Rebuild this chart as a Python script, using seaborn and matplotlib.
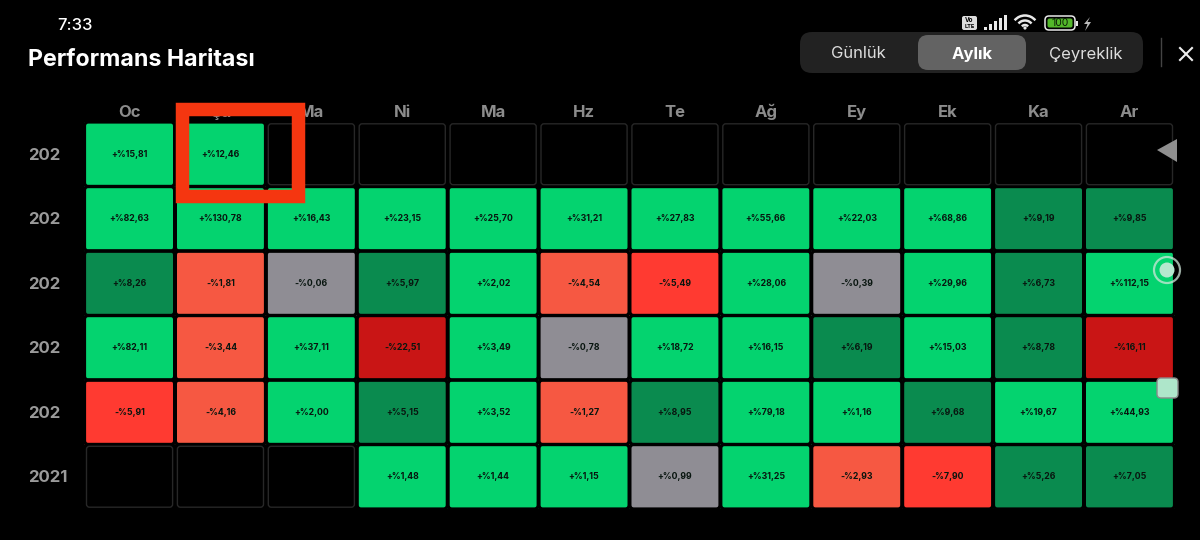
import numpy as np
import pandas as pd
import matplotlib
matplotlib.use('Agg')
import matplotlib.pyplot as plt
import seaborn as sns
from matplotlib.colors import ListedColormap
from matplotlib.patches import FancyBboxPatch, Rectangle, Circle, Polygon, Arc

months = ['Oc', 'Şu', 'Ma', 'Ni', 'Ma', 'Hz', 'Te', 'Ağ', 'Ey', 'Ek', 'Ka', 'Ar']
years = ['202', '202', '202', '202', '202', '2021']

row_1 = [15.81, 12.46, None, None, None, None, None, None, None, None, None, None]
row_2 = [82.63, 130.78, 16.43, 23.15, 25.70, 31.21, 27.83, 55.66, 22.03, 68.86, 9.19, 9.85]
row_3 = [8.26, -1.81, -0.06, 5.97, 2.02, -4.54, -5.49, 28.06, -0.39, 29.96, 6.73, 112.15]
row_4 = [82.11, -3.44, 37.11, -22.51, 3.49, -0.78, 18.72, 16.15, 6.19, 15.03, 8.78, -16.11]
row_5 = [-5.91, -4.16, 2.00, 5.15, 3.52, -1.27, 8.95, 79.18, 1.16, 9.68, 19.67, 44.93]
row_6 = [None, None, None, 1.48, 1.44, 1.15, 0.99, 31.25, -2.93, -7.90, 5.26, 7.05]

colors = ['#C91515', '#FF3A31', '#F65842', '#8F8D94', '#04D36F', '#0A8B4F']


def color_group(v):
    if np.isnan(v):
        return np.nan
    if v <= -10:
        return 0
    if v <= -5:
        return 1
    if v <= -1:
        return 2
    if v < 1:
        return 3
    if 5 <= v < 10:
        return 5
    return 4


def cell_label(v):
    if np.isnan(v):
        return ''
    sign = '+' if v >= 0 else '-'
    return f'{sign}%{abs(v):.2f}'.replace('.', ',')


values = pd.DataFrame([row_1, row_2, row_3, row_4, row_5, row_6], dtype=float)
groups = values.map(color_group)
labels = values.map(cell_label)

plt.rcParams['font.family'] = ['Inter', 'DejaVu Sans']
fig = plt.figure(figsize=(12, 5.4), dpi=100, facecolor='black')

# grid position in pixels of the screenshot
left, top, pitch_x, pitch_y = 84.1, 122.0, 90.9, 64.5
ax = fig.add_axes([left / 1200, 1 - (top + 6 * pitch_y) / 540, 12 * pitch_x / 1200, 6 * pitch_y / 540])
ax.set_facecolor('black')
sns.heatmap(groups, ax=ax, cmap=ListedColormap(colors), vmin=-0.5, vmax=5.5, cbar=False,
            annot=labels, fmt='', annot_kws={'fontsize': 6.3, 'color': '#08150f', 'fontweight': 'bold'},
            xticklabels=months, yticklabels=years)
ax.xaxis.tick_top()
ax.tick_params(length=0)
ax.tick_params(axis='x', pad=1.5)
ax.tick_params(axis='y', pad=40.5)
for t in ax.get_xticklabels():
    t.set(color='#8c8c8c', fontsize=12, fontweight='bold', rotation=0)
for t in ax.get_yticklabels():
    t.set(color='#9a9a9a', fontsize=12, fontweight='bold', rotation=0, ha='left', y=t.get_position()[1])
    t.set_transform(t.get_transform() + matplotlib.transforms.ScaledTranslation(0, -1 / 100, fig.dpi_scale_trans))

# overlay in screen pixels, for rounded cells and the app chrome
ui = fig.add_axes([0, 0, 1, 1], facecolor='none')
ui.set_xlim(0, 1200)
ui.set_ylim(540, 0)
ui.axis('off')


def rrect(x0, y0, x1, y1, r, fc='none', ec='none', lw=0, z=2):
    p = FancyBboxPatch((x0 + r, y0 + r), x1 - x0 - 2 * r, y1 - y0 - 2 * r,
                       boxstyle=f'round,pad={r},rounding_size={r}', fc=fc, ec=ec, lw=lw, zorder=z)
    ui.add_patch(p)


for r in range(6):
    for c in range(12):
        x0 = left + c * pitch_x
        y0 = top + r * pitch_y
        rrect(x0 + 0.4, y0, x0 + pitch_x - 0.4, y0 + pitch_y, 4, ec='black', lw=2.3)
        if np.isnan(values.iloc[r, c]):
            rrect(x0 + 2.4, y0 + 1.8, x0 + pitch_x - 2.4, y0 + pitch_y - 1.8, 3, ec='#272727', lw=1.0, z=3)

# red marker box
ui.add_patch(Rectangle((182, 108.7), 115.5, 87, fc='none', ec='#F53610', lw=9.7, joinstyle='miter', zorder=5))

# header
ui.text(57, 25, '7:33', color='white', fontsize=12, fontweight='medium', va='center')
ui.text(28, 59.5, 'Performans Haritası', color='white', fontsize=16.7, fontweight='bold', va='center')
rrect(800, 32, 1143, 73, 12, fc='#222222')
rrect(918, 35, 1026, 70, 10, fc='#636363', z=3)
ui.text(858, 54, 'Günlük', color='#dddddd', fontsize=12, ha='center', va='center', zorder=4)
ui.text(972, 54, 'Aylık', color='white', fontsize=12, fontweight='bold', ha='center', va='center', zorder=4)
ui.text(1086, 54, 'Çeyreklik', color='#dddddd', fontsize=12, ha='center', va='center', zorder=4)
ui.plot([1161, 1161], [38, 66], color='#444444', lw=1)
ui.plot([1180, 1192], [48, 60], color='#eeeeee', lw=1.5)
ui.plot([1180, 1192], [60, 48], color='#eeeeee', lw=1.5)

# status bar icons
rrect(962, 16, 977, 30, 2, fc='#dddddd')
ui.text(969.5, 20, 'Vo', color='black', fontsize=4.5, fontweight='bold', ha='center', va='center')
ui.text(969.5, 26, 'LTE', color='black', fontsize=4, fontweight='bold', ha='center', va='center')
for i, h in enumerate([3, 6, 9, 12, 15]):
    ui.add_patch(Rectangle((984 + i * 5, 30 - h), 3, h, fc='#e8e8e8'))
for d in [8, 17, 27]:
    ui.add_patch(Arc((1025, 29), d, d, theta1=220, theta2=320, color='#e8e8e8', lw=1.8))
ui.add_patch(Circle((1025, 28), 1.6, fc='#e8e8e8'))
rrect(1045, 16, 1075, 30, 4, ec='#e8e8e8', lw=1.1)
rrect(1047.5, 18.5, 1072.5, 27.5, 2, fc='#53B82A')
ui.text(1060, 23, '100', color='#0a1a05', fontsize=7.5, ha='center', va='center', zorder=3)
ui.add_patch(Rectangle((1076, 20.5), 1.5, 5, fc='#e8e8e8'))
ui.add_patch(Polygon([[1090, 17], [1084, 24], [1087.5, 24], [1085, 31], [1091, 22], [1087.5, 22]], fc='#bbbbbb'))

# floating side controls
ui.add_patch(Polygon([[1177, 139], [1177, 162], [1157, 150]], fc='#8f8f8f', zorder=6))
ui.add_patch(Circle((1167, 270), 13, fc='none', ec='#cfe6da', lw=1.6, alpha=0.75, zorder=6))
ui.add_patch(Circle((1167, 270), 7.5, fc='#b5e8cf', zorder=6))
rrect(1157, 378, 1178, 398, 4, fc='#aee6ca', ec='#8a8a8a', lw=1, z=6)

fig.savefig('out.png', dpi=100, facecolor='black')
